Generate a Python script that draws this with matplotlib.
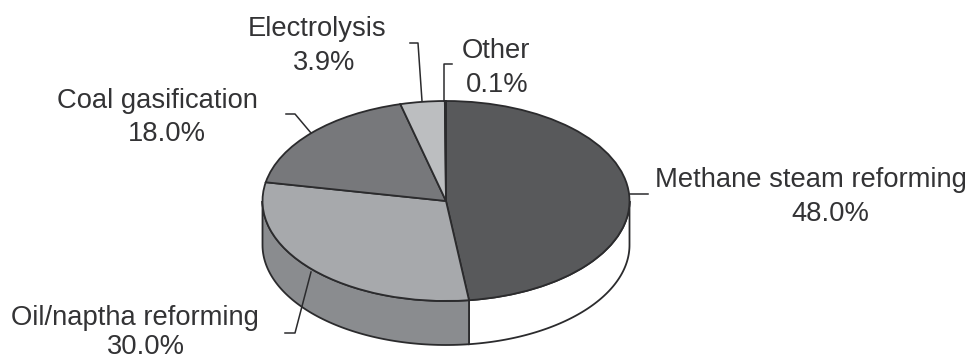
import numpy as np
import matplotlib
matplotlib.use('Agg')
import matplotlib.pyplot as plt

plt.rcParams['font.family'] = ['Liberation Sans', 'DejaVu Sans']

names = ['Methane steam reforming', 'Oil/naptha reforming', 'Coal gasification', 'Electrolysis', 'Other']
shares = [48.0, 30.0, 18.0, 3.9, 0.1]
top_colors = ['#58595b', '#a7a9ac', '#77787b', '#bcbec0', '#3a3a3c']
side_colors = ['#ffffff', '#8a8c8f']

# pie geometry in pixels
W, H = 971, 360
cx, cy = 446, 201
rx, ry = 183.5, 100
depth = 44
edge = '#2b2b2d'

fig = plt.figure(figsize=(W / 100, H / 100), dpi=100, facecolor='white')
ax = fig.add_axes([0, 0, 1, 1])

ax.pie(shares, colors=top_colors, startangle=90, counterclock=False,
       wedgeprops={'edgecolor': edge, 'linewidth': 1.3, 'zorder': 3})

# unit circle stretched into an ellipse by the axes limits
ax.set_aspect('auto')
ax.set_xlim(-cx / rx, (W - cx) / rx)
ax.set_ylim((cy - H) / ry, cy / ry)
ax.axis('off')


def side_wall(a0, a1, color):
    # front wall between two angles, only the lower half is visible
    t = np.radians(np.linspace(a0, a1, 80))
    d = depth / ry
    xs = np.r_[np.cos(t), np.cos(t[::-1])]
    ys = np.r_[np.sin(t), np.sin(t[::-1]) - d]
    ax.fill(xs, ys, facecolor=color, edgecolor=edge, linewidth=1.3, zorder=2)


split = 90 - shares[0] * 3.6
side_wall(split, 0, side_colors[0])
side_wall(-180, split, side_colors[1])

# labels and leader lines live in a pixel overlay
ov = fig.add_axes([0, 0, 1, 1])
ov.set_xlim(0, W)
ov.set_ylim(H, 0)
ov.axis('off')

# name x, name baseline, value x, value baseline
label_pos = [(810.5, 187, 830, 221), (135, 325, 146, 354), (157, 108, 167, 141),
             (317, 36, 324, 70), (495.5, 58, 497, 92)]
leaders = [([630, 648], [194, 194]),
           ([285, 295, 311], [333, 333, 272]),
           ([286, 295, 311], [114, 114, 133]),
           ([410, 418, 422], [43, 43, 101]),
           ([452, 444, 444], [64, 64, 101])]

for name, share, (x1, y1, x2, y2) in zip(names, shares, label_pos):
    ov.text(x1, y1, name, ha='center', va='baseline', fontsize=19.7, color='#333335')
    ov.text(x2, y2, f'{share:.1f}%', ha='center', va='baseline', fontsize=19.7, color='#333335')

for xs, ys in leaders:
    ov.plot(xs, ys, color=edge, linewidth=1.1)

fig.savefig('out.png', dpi=100)
